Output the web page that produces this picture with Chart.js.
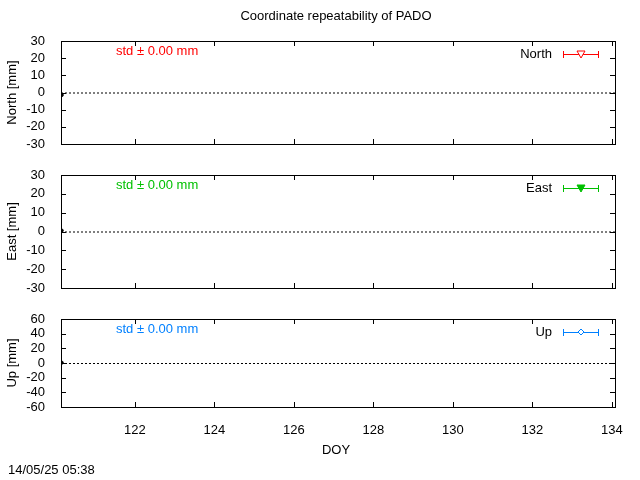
<!DOCTYPE html>
<html><head><meta charset="utf-8">
<script src="https://cdn.jsdelivr.net/npm/chart.js@4"></script>
<style>
body{margin:0;background:#fff;}
#wrap{position:relative;width:640px;height:480px;}
canvas{position:absolute;left:0;top:0;}
</style></head>
<body><div id="wrap">
<canvas id="c0" width="640" height="480"></canvas>
<canvas id="c1" width="640" height="480"></canvas>
<canvas id="c2" width="640" height="480"></canvas>
</div>
<script>
const doy = [120.16];
const north = [-1.5];
const east = [0.5];
const up = [0.5];
const xTicks = [122, 124, 126, 128, 130, 132, 134];
const yTicksNE = [-30, -20, -10, 0, 10, 20, 30];
const yTicksU = [-60, -40, -20, 0, 20, 40, 60];
const xMin = 120.14, xMax = 134.08;

const FONT = "Liberation Sans, Arial, sans-serif";
Chart.defaults.font.family = FONT;
Chart.defaults.font.size = 13;
Chart.defaults.color = "#000";

const panels = [
  {id: "c0", name: "North", title: "North [mm]", vals: north, color: "#ff0000", marker: "triangleDown", ticks: yTicksNE, top: 41, bottom: 144},
  {id: "c1", name: "East", title: "East [mm]", vals: east, color: "#00c000", marker: "triangleFilled", ticks: yTicksNE, top: 175, bottom: 288},
  {id: "c2", name: "Up", title: "Up [mm]", vals: up, color: "#0080ff", marker: "diamond", ticks: yTicksU, top: 319, bottom: 407, last: true}
];

function drawMarker(ctx, kind, x, y, color) {
  ctx.save();
  ctx.strokeStyle = color; ctx.fillStyle = color; ctx.lineWidth = 1;
  ctx.beginPath();
  if (kind === "diamond") {
    ctx.moveTo(x, y - 3); ctx.lineTo(x + 3, y); ctx.lineTo(x, y + 3); ctx.lineTo(x - 3, y); ctx.closePath();
    ctx.fillStyle = "#fff"; ctx.fill(); ctx.stroke();
  } else {
    ctx.moveTo(x - 4, y - 3); ctx.lineTo(x + 4, y - 3); ctx.lineTo(x, y + 4); ctx.closePath();
    if (kind === "triangleFilled") ctx.fill(); else { ctx.fillStyle = "#fff"; ctx.fill(); }
    ctx.stroke();
  }
  ctx.restore();
}

panels.forEach(p => {
  const deco = {
    id: "deco",
    beforeDatasetsDraw(chart) {
      const {ctx, chartArea: a, scales} = chart;
      const y0 = scales.y.getPixelForValue(0);
      ctx.save();
      ctx.strokeStyle = "#000"; ctx.lineWidth = 1;
      ctx.setLineDash([2, 2]);
      ctx.beginPath(); ctx.moveTo(a.left, y0 + 0.5); ctx.lineTo(a.right, y0 + 0.5); ctx.stroke();
      ctx.setLineDash([]);
      ctx.strokeRect(a.left + 0.5, a.top + 0.5, a.right - a.left, a.bottom - a.top);
      p.ticks.forEach(v => {
        const yy = Math.round(scales.y.getPixelForValue(v)) + 0.5;
        ctx.beginPath(); ctx.moveTo(a.left, yy); ctx.lineTo(a.left + 5, yy);
        ctx.moveTo(a.right, yy); ctx.lineTo(a.right - 5, yy); ctx.stroke();
      });
      xTicks.forEach(v => {
        const xx = Math.round(scales.x.getPixelForValue(v)) + 0.5;
        ctx.beginPath(); ctx.moveTo(xx, a.bottom); ctx.lineTo(xx, a.bottom - 5);
        ctx.moveTo(xx, a.top); ctx.lineTo(xx, a.top + 5); ctx.stroke();
      });
      ctx.font = "13px " + FONT;
      ctx.fillStyle = p.color; ctx.textAlign = "left"; ctx.textBaseline = "middle";
      ctx.fillText("std \u00b1 0.00 mm", 116, a.top + 10);
      const ly = a.top + 13;
      ctx.fillStyle = "#000"; ctx.textAlign = "right";
      ctx.fillText(p.name, 552, ly);
      ctx.strokeStyle = p.color;
      ctx.beginPath(); ctx.moveTo(563, ly + 0.5); ctx.lineTo(599, ly + 0.5);
      ctx.moveTo(563.5, ly - 3); ctx.lineTo(563.5, ly + 4);
      ctx.moveTo(598.5, ly - 3); ctx.lineTo(598.5, ly + 4); ctx.stroke();
      drawMarker(ctx, p.marker, 581, ly, p.color);
      ctx.restore();
    },
    afterDraw(chart) {
      const {ctx} = chart;
      ctx.save();
      ctx.font = "13px " + FONT; ctx.fillStyle = "#000"; ctx.textBaseline = "middle";
      if (p.id === "c0") { ctx.textAlign = "center"; ctx.fillText("Coordinate repeatability of PADO", 336, 16); }
      if (p.last) {
        ctx.textAlign = "center"; ctx.fillText("DOY", 336, 450);
        ctx.textAlign = "left"; ctx.fillText("14/05/25 05:38", 8, 470);
      }
      ctx.restore();
    }
  };
  new Chart(document.getElementById(p.id), {
    type: "scatter",
    data: {datasets: [{data: doy.map((x, i) => ({x, y: p.vals[i]})), backgroundColor: "#000", borderColor: "#000", pointRadius: 1.5}]},
    options: {
      responsive: false, animation: false, events: [],
      layout: {padding: {left: 5, right: 640 - 615, top: p.top, bottom: p.last ? 0 : 480 - p.bottom}},
      plugins: {legend: {display: false}, tooltip: {enabled: false}},
      scales: {
        x: {
          type: "linear", min: xMin, max: xMax,
          display: !!p.last,
          grid: {display: false}, border: {display: false},
          afterBuildTicks: s => { s.ticks = xTicks.map(v => ({value: v})); },
          ticks: {padding: 8, autoSkip: false, maxRotation: 0},
          afterFit: s => { if (p.last) s.height = 480 - p.bottom; }
        },
        y: {
          min: p.ticks[0], max: p.ticks[p.ticks.length - 1],
          grid: {display: false}, border: {display: false},
          afterBuildTicks: s => { s.ticks = p.ticks.map(v => ({value: v})); },
          ticks: {padding: 8, autoSkip: false},
          title: {display: true, text: p.title, padding: {top: 0, bottom: 0}},
          afterFit: s => { s.width = 56; }
        }
      }
    },
    plugins: [deco]
  });
});
</script></body></html>
